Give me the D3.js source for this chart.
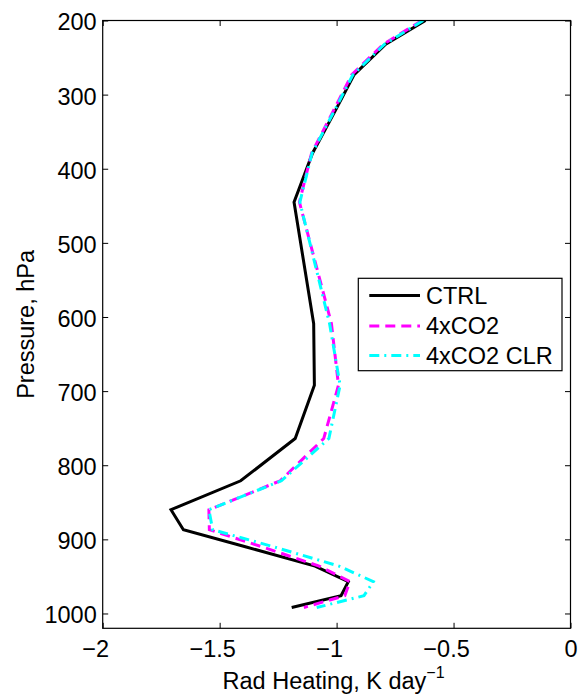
<!DOCTYPE html>
<html>
<head>
<meta charset="utf-8">
<script src="https://cdn.jsdelivr.net/npm/d3@7"></script>
<style>
  html, body { margin: 0; padding: 0; background: #fff; }
  svg { display: block; }
  text { font-family: "Liberation Sans", Arial, Helvetica, sans-serif; fill: #000; }
</style>
</head>
<body>
<svg id="chart" width="578" height="696"></svg>
<script>
// ---- data ----
const pressure = [200, 232, 273, 322, 379, 445, 609, 692, 764, 821, 860, 887, 910, 936, 957, 976, 992];
const ctrl     = [-0.62, -0.79, -0.925, -1.006, -1.103, -1.182, -1.098, -1.095, -1.177, -1.41, -1.708, -1.655, -1.39, -1.092, -0.95, -0.981, -1.192];
const co2x4    = [-0.635, -0.80, -0.935, -1.014, -1.107, -1.159, -1.022, -0.992, -1.055, -1.241, -1.546, -1.544, -1.32, -1.075, -0.943, -0.965, -1.14];
const co2x4clr = [-0.63, -0.795, -0.93, -1.01, -1.105, -1.157, -1.03, -0.985, -1.033, -1.236, -1.546, -1.53, -1.27, -0.99, -0.843, -0.883, -1.085];
const seriesNames = ["CTRL", "4xCO2", "4xCO2 CLR"];
const xTicks = [-2, -1.5, -1, -0.5, 0];
const yTicks = [200, 300, 400, 500, 600, 700, 800, 900, 1000];

// ---- layout ----
const L = 102.7, R = 570.5, T = 20.5, B = 628.3;
const FS = 23.5;
const svg = d3.select("#chart");

const x = d3.scaleLinear().domain([-2, 0]).range([L, R]);
const y = d3.scaleLinear().domain([200, 1020]).range([T, B]);

const fmt = d => (d < 0 ? "\u2212" : "") + Math.abs(d);

// axes (ticks inward, mirrored on top/right)
const gx = svg.append("g").attr("transform", `translate(0,${B})`)
  .call(d3.axisBottom(x).tickValues(xTicks).tickFormat(fmt).tickSizeInner(-5.5).tickSizeOuter(0).tickPadding(12.5));
const gxTop = svg.append("g").attr("transform", `translate(0,${T})`)
  .call(d3.axisTop(x).tickValues(xTicks).tickFormat("").tickSizeInner(-5.5).tickSizeOuter(0));
const gy = svg.append("g").attr("transform", `translate(${L},0)`)
  .call(d3.axisLeft(y).tickValues(yTicks).tickFormat(d3.format("d")).tickSizeInner(-5.5).tickSizeOuter(0).tickPadding(6));
const gyR = svg.append("g").attr("transform", `translate(${R},0)`)
  .call(d3.axisRight(y).tickValues(yTicks).tickFormat("").tickSizeInner(-5.5).tickSizeOuter(0));

[gx, gxTop, gy, gyR].forEach(g => {
  g.select(".domain").remove();
  g.selectAll(".tick line").attr("stroke", "#000").attr("stroke-width", 1);
  g.selectAll(".tick text").style("font-size", FS + "px").attr("fill", "#000")
    .style("font-family", '"Liberation Sans", Arial, sans-serif');
});
// negative labels: minus sign hangs to the left of the centred number
gx.selectAll(".tick text").attr("dx", d => d < 0 ? -7.5 : 0);
gy.selectAll(".tick text").attr("dy", "0.4em");

// clip for lines
svg.append("defs").append("clipPath").attr("id", "clip")
  .append("rect").attr("x", L).attr("y", T).attr("width", R - L).attr("height", B - T);

const line = d3.line().x(d => x(d[0])).y(d => y(d[1]));
const styles = [
  { color: "#000000", dash: null },
  { color: "#ff00ff", dash: "10,6" },
  { color: "#00ffff", dash: "10,5,2,5" }
];
const allSeries = [ctrl, co2x4, co2x4clr];

const plot = svg.append("g").attr("clip-path", "url(#clip)");
allSeries.forEach((vals, i) => {
  plot.append("path")
    .datum(vals.map((v, k) => [v, pressure[k]]))
    .attr("d", line)
    .attr("fill", "none")
    .attr("stroke", styles[i].color)
    .attr("stroke-width", 3)
    .attr("stroke-linejoin", "miter")
    .attr("stroke-dasharray", styles[i].dash);
});

// frame
svg.append("rect").attr("x", L).attr("y", T).attr("width", R - L).attr("height", B - T)
  .attr("fill", "none").attr("stroke", "#000").attr("stroke-width", 1.2);

// axis labels
const xl = svg.append("text").attr("x", (L + R) / 2 - 3).attr("y", 688.5)
  .attr("text-anchor", "middle").style("font-size", FS + "px");
xl.append("tspan").text("Rad Heating, K day");
xl.append("tspan").attr("dy", -11).style("font-size", "16px").text("\u22121");

svg.append("text")
  .attr("transform", `translate(34,${(T + B) / 2}) rotate(-90)`)
  .attr("text-anchor", "middle").style("font-size", FS + "px")
  .text("Pressure, hPa");

// legend
const lg = svg.append("g");
lg.append("rect").attr("x", 358.3).attr("y", 278.3).attr("width", 203.7).attr("height", 92.4)
  .attr("fill", "#fff").attr("stroke", "#000").attr("stroke-width", 1.2);
const rows = [295.5, 326, 355.5];
seriesNames.forEach((name, i) => {
  lg.append("line").attr("x1", 369.3).attr("x2", 420).attr("y1", rows[i]).attr("y2", rows[i])
    .attr("stroke", styles[i].color).attr("stroke-width", 3)
    .attr("stroke-dasharray", styles[i].dash);
  lg.append("text").attr("x", 426).attr("y", rows[i] + 8.4)
    .style("font-size", FS + "px").text(name);
});
</script>
</body>
</html>
